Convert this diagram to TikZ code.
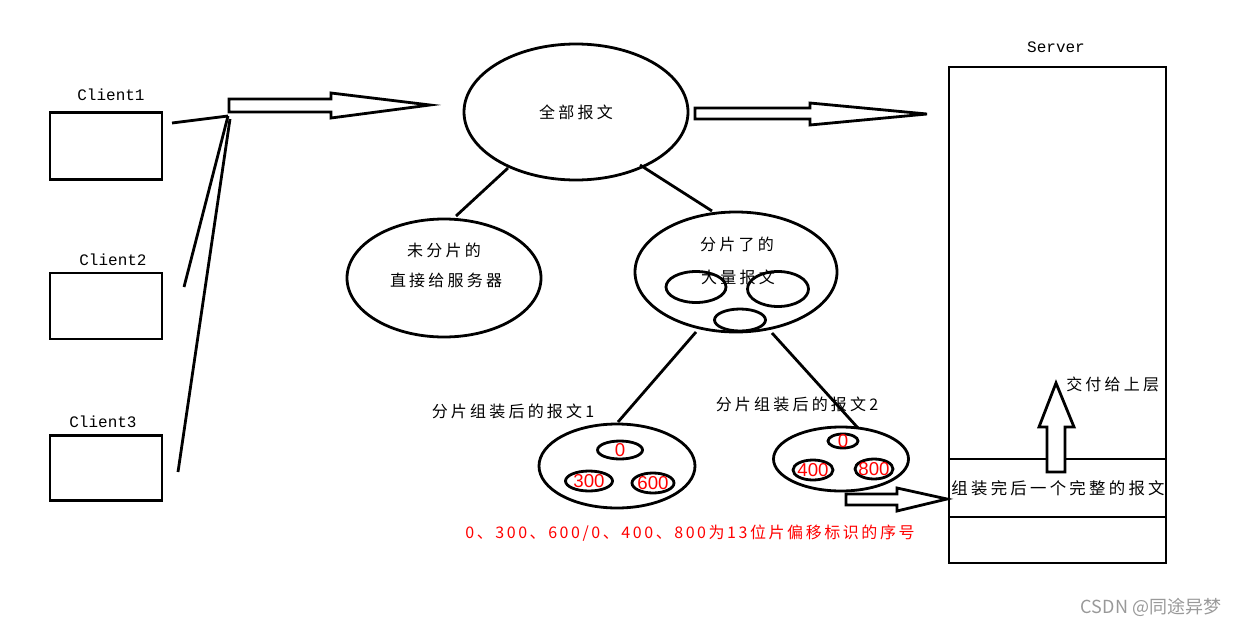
\documentclass[tikz,border=0pt]{standalone}
\usepackage{fontspec}
\usetikzlibrary{shapes.geometric}
\setmainfont{Liberation Serif}
\newfontfamily\cjk[LetterSpace=20]{Noto Sans CJK SC}
\newfontfamily\cjknote[LetterSpace=16]{Noto Sans CJK SC}
\newfontfamily\cjkplain{Noto Sans CJK SC}
\newfontfamily\monof{Liberation Mono}
\newfontfamily\numf{Liberation Sans}
\begin{document}
\begin{tikzpicture}[x=0.75pt,y=-0.75pt,
  thick line/.style={line width=2.1pt},
  box/.style={draw,line width=2.1pt,rectangle,inner sep=0pt},
  oval/.style={draw,line width=2.1pt,ellipse,inner sep=0pt},
  zh/.style={font=\cjk\fontsize{12}{14}\selectfont,inner sep=0pt},
  mono/.style={font=\monof\fontsize{12}{14}\selectfont,inner sep=0pt},
  num/.style={font=\numf\fontsize{14}{16}\selectfont,text=red,inner sep=0pt},
  blockarrow/.style={draw,line width=2.1pt,fill=white,line join=miter}]
\useasboundingbox (0,0) rectangle (1242,628);
% clients
\node[mono] (l1) at (111,95) {Client1};
\node[box,minimum width=112*0.75pt,minimum height=67*0.75pt] (c1) at (106,146) {};
\node[mono] (l2) at (113,260) {Client2};
\node[box,minimum width=112*0.75pt,minimum height=66*0.75pt] (c2) at (106,306) {};
\node[mono] (l3) at (103,422) {Client3};
\node[box,minimum width=112*0.75pt,minimum height=65*0.75pt] (c3) at (106,468) {};
\coordinate (hub) at (228,116);
\coordinate (s1) at (172,123);
\coordinate (s2) at (184,287);
\coordinate (s3) at (178,472);
\coordinate (hub3) at (230,119);
\draw[thick line] (s1) -- (hub);
\draw[thick line] (s2) -- (hub);
\draw[thick line] (s3) -- (hub3);
% first block arrow
\draw[blockarrow] (229,99) -- (331,99) -- (331,93) -- (430,105) -- (331,118) -- (331,112) -- (229,112) -- cycle;
% top ellipse
\node[oval,minimum width=224*0.75pt,minimum height=136*0.75pt] (all) at (576,112) {};
\node[zh] (allt) at (576,112) {全部报文};
% second block arrow
\draw[blockarrow] (695,108) -- (810,108) -- (810,103) -- (927,114) -- (810,125) -- (810,119) -- (695,119) -- cycle;
% server
\node[mono] (srvl) at (1056,47) {Server};
\node[box,minimum width=217*0.75pt,minimum height=496*0.75pt] (srv) at (1057.5,315) {};
\node[box,minimum width=217*0.75pt,minimum height=58*0.75pt] (band) at (1057.5,488) {};
\node[font=\cjk\fontsize{12.3}{14}\selectfont,inner sep=0pt] (bandt) at (1058,488) {组装完后一个完整的报文};
% up arrow
\draw[blockarrow] (1047,472) -- (1047,427) -- (1039,427) -- (1056,383) -- (1074,427) -- (1065,427) -- (1065,472) -- cycle;
\node[zh,anchor=west] (up) at (1066,384) {交付给上层};
% second level
\node[oval,minimum width=194*0.75pt,minimum height=118*0.75pt] (uns) at (444,278) {};
\node[zh] (unst1) at (444,250) {未分片的};
\node[zh] (unst2) at (446,280) {直接给服务器};
\node[oval,minimum width=202*0.75pt,minimum height=120*0.75pt] (frag) at (736,272) {};
\node[zh] (fragt1) at (737,244) {分片了的};
\node[zh] (fragt2) at (738,277) {大量报文};
\node[oval,minimum width=60*0.75pt,minimum height=31*0.75pt] (f1) at (696,287) {};
\node[oval,minimum width=61*0.75pt,minimum height=35*0.75pt] (f2) at (778,289) {};
\node[oval,minimum width=51*0.75pt,minimum height=22*0.75pt] (f3) at (740,320) {};
\coordinate (a1) at (508,168);
\coordinate (b1) at (456,216);
\coordinate (a2) at (640,165);
\coordinate (b2) at (712,211);
\draw[thick line] (a1) -- (b1);
\draw[thick line] (a2) -- (b2);
\coordinate (a3) at (696,332);
\coordinate (b3) at (618,422);
\coordinate (a4) at (772,333);
\coordinate (b4) at (858,428);
\draw[thick line] (a3) -- (b3);
\draw[thick line] (a4) -- (b4);
% third level
\node[zh] (r1t) at (513,411) {分片组装后的报文1};
\node[zh] (r2t) at (797,404) {分片组装后的报文2};
\node[oval,minimum width=156*0.75pt,minimum height=84*0.75pt] (r1) at (617,466) {};
\node[oval,minimum width=45*0.75pt,minimum height=18*0.75pt] (r1a) at (620,450) {};
\node[num] at (r1a) {0};
\node[oval,minimum width=47*0.75pt,minimum height=20*0.75pt] (r1b) at (589,481) {};
\node[num] at (r1b) {300};
\node[oval,minimum width=42*0.75pt,minimum height=20*0.75pt] (r1c) at (653,483) {};
\node[num] at (r1c) {600};
\node[oval,minimum width=135*0.75pt,minimum height=64*0.75pt] (r2) at (841,459) {};
\node[oval,minimum width=30*0.75pt,minimum height=14*0.75pt] (r2a) at (843,441) {};
\node[num] at (r2a) {0};
\node[oval,minimum width=40*0.75pt,minimum height=20*0.75pt] (r2b) at (813,470) {};
\node[num] at (r2b) {400};
\node[oval,minimum width=38*0.75pt,minimum height=20*0.75pt] (r2c) at (874,469) {};
\node[num] at (r2c) {800};
% arrow to band
\draw[blockarrow] (846,494) -- (897,494) -- (897,488) -- (947,499) -- (897,511) -- (897,505) -- (846,505) -- cycle;
% red note
\node[font=\cjknote\fontsize{12}{14}\selectfont,text=red,inner sep=0pt] (note) at (690,533) {0、300、600/0、400、800为13位片偏移标识的序号};
% watermark
\node[font=\cjkplain\fontsize{13.5}{16}\selectfont,text=black!40,inner sep=0pt] (wm) at (1151,607) {CSDN @同途异梦};
\end{tikzpicture}
\end{document}
